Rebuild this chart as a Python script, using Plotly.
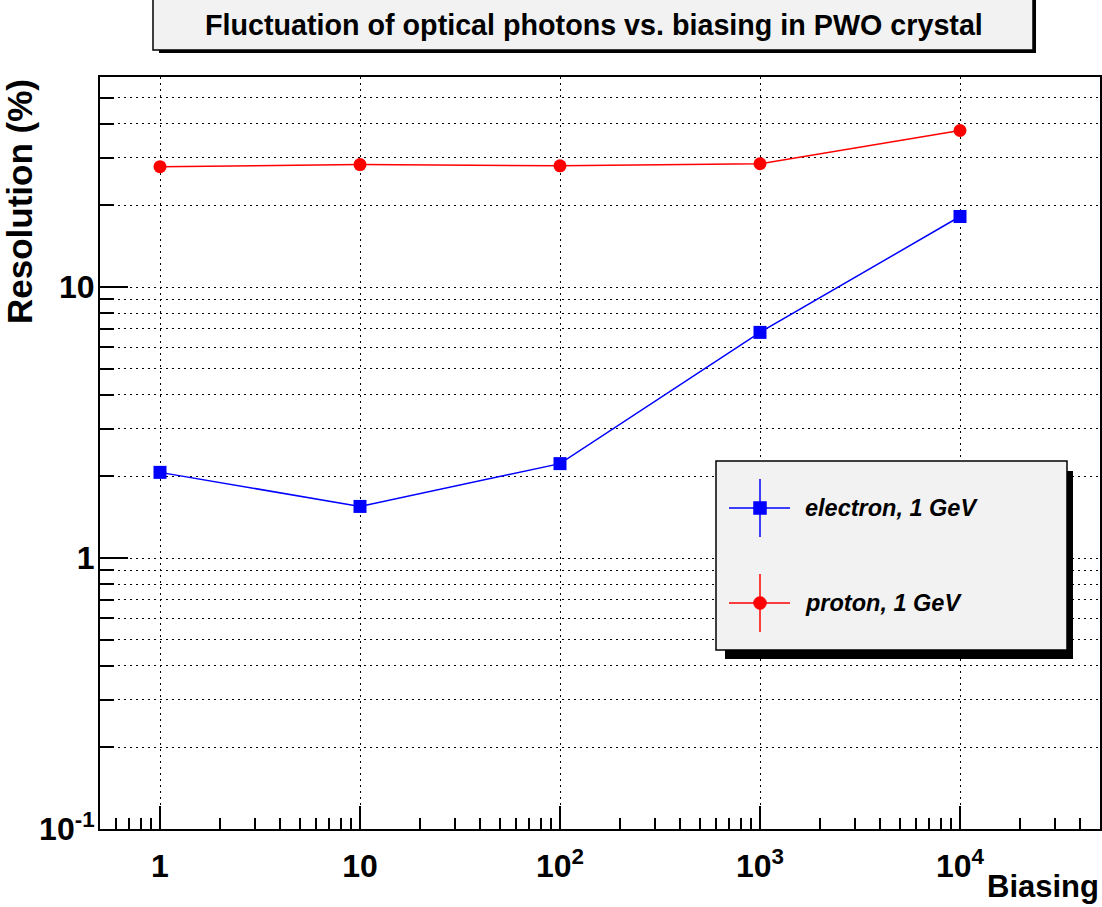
import plotly.graph_objects as go

# ---- data ----
biasing = [1, 10, 100, 1000, 10000]
electron_res = [2.07, 1.55, 2.23, 6.8, 18.2]
proton_res = [27.8, 28.3, 28.0, 28.5, 37.8]

x_tickvals = [1, 10, 100, 1000, 10000]
x_ticktext = ["1", "10", "10<sup>2</sup>", "10<sup>3</sup>", "10<sup>4</sup>"]
y_tickvals = [0.1, 1, 10]
y_ticktext = ["10<sup>-1</sup>", "1", "10"]

title_text = "Fluctuation of optical photons vs. biasing in PWO crystal"
x_title = "Biasing"
y_title = "Resolution (%)"
legend_labels = ["electron, 1 GeV", "proton, 1 GeV"]
colors = ["#0000ff", "#ff0000"]

W, H = 1102, 907
ML, MR, MT, MB = 100, 2, 77, 78
PW = W - ML - MR
PH = H - MT - MB


def px(x):
    return (x - ML) / PW


def py(y):
    return (H - MB - y) / PH


xminor = [m * 10 ** e for e in range(-1, 5) for m in range(2, 10)]
yminor = [m * 10 ** e for e in range(-1, 2) for m in range(2, 10)]

FONT = "Liberation Sans, Arial, Helvetica, sans-serif"

fig = go.Figure()
fig.add_trace(go.Scatter(x=biasing, y=electron_res, mode="lines+markers",
                         line=dict(color=colors[0], width=1.5),
                         marker=dict(symbol="square", size=13, color=colors[0]),
                         name=legend_labels[0], showlegend=False))
fig.add_trace(go.Scatter(x=biasing, y=proton_res, mode="lines+markers",
                         line=dict(color=colors[1], width=1.5),
                         marker=dict(symbol="circle", size=13, color=colors[1]),
                         name=legend_labels[1], showlegend=False))

grid_dash = "2px,4px"
fig.update_xaxes(type="log", range=[-0.3, 4.7], tickmode="array",
                 tickvals=x_tickvals, ticktext=x_ticktext, automargin=False,
                 ticks="inside", ticklen=23, tickwidth=2, tickcolor="black",
                 showline=True, linewidth=2, linecolor="black", mirror=True,
                 showgrid=True, gridcolor="black", gridwidth=1, griddash=grid_dash,
                 zeroline=False,
                 minor=dict(tickmode="array", tickvals=xminor, ticks="inside", ticklen=11,
                            tickwidth=1.5, tickcolor="black", showgrid=False),
                 tickfont=dict(family=FONT, size=32, color="black", weight="bold"),
                 ticklabelstandoff=8)
fig.update_yaxes(type="log", range=[-1, -1 + PH / 271.0], tickmode="array",
                 tickvals=y_tickvals, ticktext=y_ticktext, automargin=False,
                 ticks="inside", ticklen=28, tickwidth=2, tickcolor="black",
                 showline=True, linewidth=2, linecolor="black", mirror=True,
                 showgrid=True, gridcolor="black", gridwidth=1, griddash=grid_dash,
                 zeroline=False,
                 minor=dict(tickmode="array", tickvals=yminor, ticks="inside", ticklen=14,
                            tickwidth=2, tickcolor="black", showgrid=True,
                            gridcolor="black", gridwidth=1, griddash=grid_dash),
                 tickfont=dict(family=FONT, size=32, color="black", weight="bold"),
                 ticklabelstandoff=-3)

shapes = []
annotations = []

# title box with shadow
shapes.append(dict(type="rect", xref="paper", yref="paper",
                   x0=px(159), x1=px(1036), y0=py(53), y1=py(-10),
                   fillcolor="black", line=dict(width=0), layer="above"))
shapes.append(dict(type="rect", xref="paper", yref="paper",
                   x0=px(153), x1=px(1033), y0=py(50), y1=py(-10),
                   fillcolor="#f2f2f2", line=dict(color="black", width=1.5), layer="above"))
annotations.append(dict(text="<b>" + title_text + "</b>", xref="paper", yref="paper",
                        x=px(594), y=py(25), xanchor="center", yanchor="middle",
                        showarrow=False, font=dict(family=FONT, size=28.7, color="black")))

# legend box with shadow
shapes.append(dict(type="rect", xref="paper", yref="paper",
                   x0=px(725), x1=px(1073), y0=py(659), y1=py(471),
                   fillcolor="black", line=dict(width=0), layer="above"))
shapes.append(dict(type="rect", xref="paper", yref="paper",
                   x0=px(716), x1=px(1067), y0=py(650), y1=py(461),
                   fillcolor="#f2f2f2", line=dict(color="black", width=1.5), layer="above"))
entry_y = [508, 603]
symbols = ["square", "circle"]
for lab, col, ey, sym in zip(legend_labels, colors, entry_y, symbols):
    shapes.append(dict(type="line", xref="paper", yref="paper",
                       x0=px(729), x1=px(790), y0=py(ey), y1=py(ey),
                       line=dict(color=col, width=1.5), layer="above"))
    shapes.append(dict(type="line", xref="paper", yref="paper",
                       x0=px(760), x1=px(760), y0=py(ey - 29), y1=py(ey + 29),
                       line=dict(color=col, width=1.5), layer="above"))
    shapes.append(dict(type="rect" if sym == "square" else "circle", xref="paper", yref="paper",
                       x0=px(753.5), x1=px(766.5), y0=py(ey + 6.5), y1=py(ey - 6.5),
                       fillcolor=col, line=dict(color=col, width=0.5), layer="above"))
    annotations.append(dict(text="<b><i>" + lab + "</i></b>", xref="paper", yref="paper",
                            x=px(803), y=py(ey), xanchor="left", yanchor="middle",
                            showarrow=False, font=dict(family=FONT, size=23.5, color="black")))

# axis titles
annotations.append(dict(text="<b>" + x_title + "</b>", xref="paper", yref="paper",
                        x=px(1101), y=py(886), xanchor="right", yanchor="middle",
                        showarrow=False, font=dict(family=FONT, size=31, color="black")))
annotations.append(dict(text="<b>" + y_title + "</b>", xref="paper", yref="paper",
                        x=px(20), y=py(202), xanchor="center", yanchor="middle",
                        textangle=-90,
                        showarrow=False, font=dict(family=FONT, size=35, color="black")))

fig.update_layout(width=W, height=H, margin=dict(l=ML, r=MR, t=MT, b=MB),
                  plot_bgcolor="white", paper_bgcolor="white",
                  shapes=shapes, annotations=annotations, showlegend=False)

fig.write_html("out.html", config={"displayModeBar": False},
               post_script="document.body.style.margin='0';document.body.style.padding='0';")
